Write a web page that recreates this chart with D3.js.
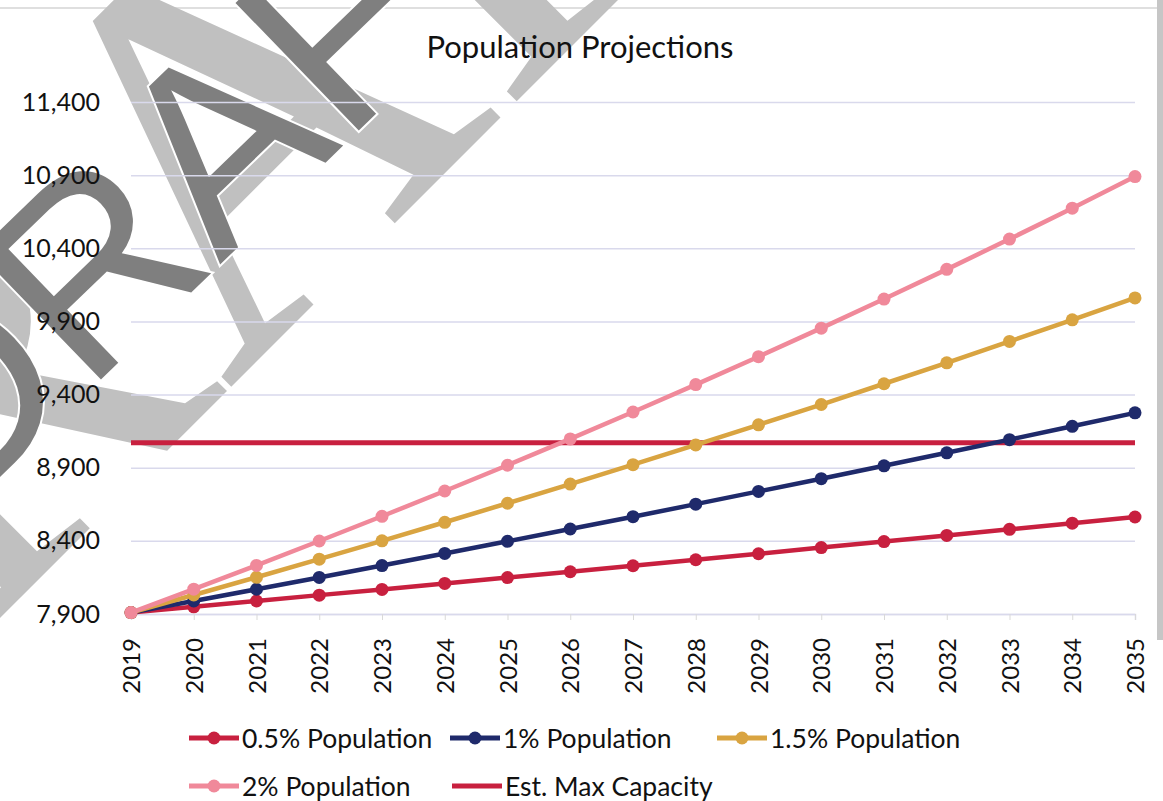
<!DOCTYPE html>
<html lang="en">
<head>
<meta charset="UTF-8">
<title>Population Projections</title>
<style>
  body { margin: 0; background: #fff; }
  svg { display: block; font-family: Lato, "Open Sans", sans-serif; }
</style>
</head>
<body>
<div id="chart"></div>

<script src="https://cdnjs.cloudflare.com/ajax/libs/d3/7.8.5/d3.min.js"></script>

<script>
    // projection data, one value per year
    const years = [2019, 2020, 2021, 2022, 2023, 2024, 2025, 2026, 2027, 2028, 2029, 2030, 2031, 2032, 2033, 2034, 2035];
    const pop05 = [7910, 7949, 7989, 8029, 8068, 8109, 8149, 8189, 8230, 8271, 8312, 8354, 8395, 8437, 8479, 8521, 8563];
    const pop1  = [7910, 7989, 8069, 8150, 8231, 8314, 8397, 8481, 8565, 8651, 8738, 8825, 8913, 9002, 9092, 9183, 9275];
    const pop15 = [7910, 8030, 8151, 8275, 8400, 8527, 8657, 8788, 8921, 9056, 9193, 9332, 9474, 9617, 9763, 9911, 10061];
    const pop2  = [7910, 8070, 8232, 8399, 8568, 8741, 8917, 9097, 9281, 9468, 9659, 9854, 10053, 10256, 10463, 10674, 10890];
    const maxCapacity = 9070;
    const yTicks = [7900, 8400, 8900, 9400, 9900, 10400, 10900, 11400];

    const series = [
        {name: "0.5% Population", values: pop05, color: "#c8203f"},
        {name: "1% Population", values: pop1, color: "#1f2a6b"},
        {name: "1.5% Population", values: pop15, color: "#d9a441"},
        {name: "2% Population", values: pop2, color: "#f0899a"}
    ];
    const capColor = "#c8203f";

    const width = 1163, height = 801;
    const plot = {left: 131, right: 1135, top: 102, bottom: 614};

    const svg = d3.select("#chart").append("svg")
        .attr("width", width)
        .attr("height", height);

    const x = d3.scaleLinear().domain([years[0], years[years.length - 1]]).range([plot.left, plot.right]);
    const y = d3.scaleLinear().domain([yTicks[0], yTicks[yTicks.length - 1]]).range([plot.bottom, plot.top]);

    // frame bits around the chart
    svg.append("line")
        .attr("x1", 0).attr("x2", 1157).attr("y1", 8).attr("y2", 8)
        .style("stroke", "#d4d4d4").style("stroke-width", 1.5);
    svg.append("rect")
        .attr("x", 1157).attr("y", 0).attr("width", 6).attr("height", 640)
        .style("fill", "#c6c6c6");

    // gridlines + value labels
    const yAxis = svg.append("g")
        .attr("transform", `translate(${plot.left},0)`)
        .call(d3.axisLeft(y)
            .tickValues(yTicks)
            .tickFormat(d3.format(","))
            .tickSize(-(plot.right - plot.left))
            .tickPadding(31));
    yAxis.select(".domain").remove();
    yAxis.selectAll(".tick line").style("stroke", "#d9d9ec").style("stroke-width", 1.5);

    // watermark, behind the data
    const mark = svg.append("g").attr("class", "watermark");
    mark.append("text")
        .attr("transform", "translate(323,295) rotate(-45)")
        .attr("text-anchor", "middle")
        .style("font-family", "'Liberation Serif', serif")
        .style("font-size", "540px")
        .style("fill", "#c0c0c0")
        .text("DRAFT");
    mark.append("text")
        .attr("transform", "translate(261,225) rotate(-44)")
        .attr("text-anchor", "middle")
        .style("font-family", "'Liberation Sans', sans-serif")
        .style("font-size", "258px")
        .style("fill", "#7f7f7f")
        .style("stroke", "#fff")
        .style("stroke-width", 4)
        .style("paint-order", "stroke")
        .text("DRAFT");

    yAxis.raise();
    yAxis.selectAll(".tick line").lower();
    yAxis.selectAll(".tick text")
        .style("font-family", "Lato, sans-serif")
        .style("font-size", "25px")
        .style("fill", "#111");

    // year axis
    const xAxis = svg.append("g")
        .attr("transform", `translate(0,${plot.bottom})`)
        .call(d3.axisBottom(x).tickValues(years).tickFormat(d3.format("d")).tickSize(6));
    xAxis.select(".domain").style("stroke", "#d9d9ec").style("stroke-width", 1.5);
    xAxis.selectAll(".tick line").style("stroke", "#d9d9d9");
    xAxis.selectAll(".tick text")
        .attr("transform", "rotate(-90)")
        .attr("x", -24)
        .attr("y", 0)
        .attr("dy", "0.36em")
        .attr("text-anchor", "end")
        .style("font-family", "Lato, sans-serif")
        .style("font-size", "24px")
        .style("fill", "#111");

    // capacity line
    svg.append("line")
        .attr("x1", x(years[0])).attr("x2", x(years[years.length - 1]))
        .attr("y1", y(maxCapacity)).attr("y2", y(maxCapacity))
        .style("stroke", capColor).style("stroke-width", 5);

    const line = d3.line()
        .x((d, i) => x(years[i]))
        .y(d => y(d));

    series.forEach(s => {
        svg.append("path")
            .datum(s.values)
            .attr("d", line)
            .style("fill", "none")
            .style("stroke", s.color)
            .style("stroke-width", 4.5)
            .style("stroke-linejoin", "round");
        svg.append("g").selectAll("circle")
            .data(s.values)
            .join("circle")
            .attr("cx", (d, i) => x(years[i]))
            .attr("cy", d => y(d))
            .attr("r", 6.5)
            .style("fill", s.color);
    });

    // title
    svg.append("text")
        .attr("x", 580)
        .attr("y", 58)
        .attr("text-anchor", "middle")
        .style("font-size", "31px")
        .style("fill", "#111")
        .text("Population Projections");

    // legend
    const legendItems = [
        {name: series[0].name, color: series[0].color, dot: true, x: 189, y: 738},
        {name: series[1].name, color: series[1].color, dot: true, x: 450, y: 738},
        {name: series[2].name, color: series[2].color, dot: true, x: 717, y: 738},
        {name: series[3].name, color: series[3].color, dot: true, x: 189, y: 786},
        {name: "Est. Max Capacity", color: capColor, dot: false, x: 452, y: 786}
    ];
    const legend = svg.append("g").selectAll("g")
        .data(legendItems)
        .join("g")
        .attr("transform", d => `translate(${d.x},${d.y})`);
    legend.append("line")
        .attr("x1", 0).attr("x2", 50)
        .style("stroke", d => d.color)
        .style("stroke-width", 5);
    legend.filter(d => d.dot).append("circle")
        .attr("cx", 25)
        .attr("r", 6.5)
        .style("fill", d => d.color);
    legend.append("text")
        .attr("x", 53)
        .attr("dy", "0.36em")
        .style("font-size", "26.5px")
        .style("fill", "#111")
        .text(d => d.name);
</script>
</body>
</html>
